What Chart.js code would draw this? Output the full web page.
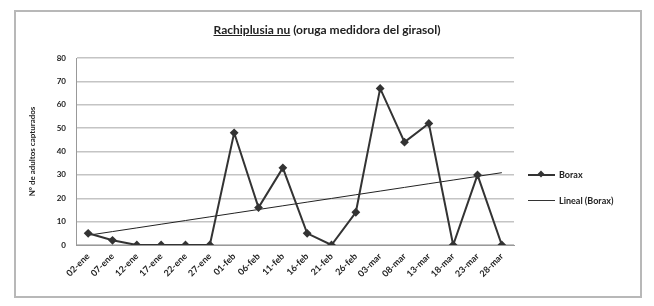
<!DOCTYPE html>
<html>
<head>
<meta charset="utf-8">
<script src="https://cdn.jsdelivr.net/npm/chart.js@4.4.1/dist/chart.umd.min.js"></script>
<style>
  body { margin: 0; background: #fff; font-family: Lato, "Liberation Sans", sans-serif; }
  .wrap { position: relative; width: 654px; height: 306px; }
  .frame { position: absolute; left: 14px; top: 10px; width: 628px; height: 288px; border: 2px solid #b8b8b8; box-sizing: border-box; }
  canvas { position: absolute; left: 0; top: 0; }
  .title { position: absolute; left: 0; width: 654px; top: 22px; text-align: center; font-size: 12px; font-weight: bold; color: #222; }
  .legend { position: absolute; left: 528px; top: 168px; font-size: 9px; font-weight: bold; color: #222; }
  .legend div { display: flex; align-items: center; height: 13px; margin-bottom: 13px; }
  .swatch { position: relative; width: 27px; height: 2px; background: #333; margin-right: 4px; }
  .swatch.thin { height: 1px; }
  .swatch .dia { position: absolute; left: 10px; top: -3px; width: 6px; height: 6px; background: #333; transform: rotate(45deg) scale(0.8); }
</style>
</head>
<body>
<div class="wrap">
  <div class="frame"></div>
  <canvas id="chart" width="654" height="306"></canvas>
  <div class="title"><u>Rachiplusia nu</u> (oruga medidora del girasol)</div>
  <div class="legend">
    <div><span class="swatch"><span class="dia"></span></span>Borax</div>
    <div><span class="swatch thin"></span>Lineal (Borax)</div>
  </div>
</div>
<script>
// fechas de muestreo
const fechas = ['02-ene', '07-ene', '12-ene', '17-ene', '22-ene', '27-ene', '01-feb', '06-feb', '11-feb',
  '16-feb', '21-feb', '26-feb', '03-mar', '08-mar', '13-mar', '18-mar', '23-mar', '28-mar'];
// adultos capturados
const capturas = [5, 2, 0, 0, 0, 0, 48, 16, 33, 5, 0, 14, 67, 44, 52, 0, 30, 0];
const yTicks = [0, 10, 20, 30, 40, 50, 60, 70, 80];

// tendencia lineal (minimos cuadrados) sobre las capturas
const n = capturas.length;
const mx = (n - 1) / 2;
const my = capturas.reduce((a, b) => a + b, 0) / n;
let sxy = 0, sxx = 0;
capturas.forEach((v, i) => { sxy += (i - mx) * (v - my); sxx += (i - mx) * (i - mx); });
const pend = sxy / sxx;
const tendencia = capturas.map((_, i) => my + pend * (i - mx));

const tickFont = { family: 'Lato, "Liberation Sans", sans-serif', size: 8, weight: 'bold' };
const xFont = { family: 'Lato, "Liberation Sans", sans-serif', size: 9, weight: 'bold' };

new Chart(document.getElementById('chart'), {
  type: 'line',
  data: {
    labels: fechas,
    datasets: [
      {
        label: 'Borax',
        data: capturas,
        borderColor: '#333',
        backgroundColor: '#333',
        borderWidth: 2,
        pointStyle: 'rectRot',
        pointRadius: 3,
        tension: 0,
      },
      {
        label: 'Lineal (Borax)',
        data: tendencia,
        borderColor: '#222',
        borderWidth: 1,
        pointRadius: 0,
        tension: 0,
      },
    ],
  },
  options: {
    responsive: false,
    animation: false,
    layout: { padding: { left: 26, right: 140, top: 58, bottom: 0 } },
    plugins: { legend: { display: false }, tooltip: { enabled: false } },
    scales: {
      x: {
        offset: true,
        grid: { display: false, drawTicks: false },
        border: { color: '#999', width: 1 },
        ticks: { font: xFont, color: '#222', maxRotation: 45, minRotation: 45, autoSkip: false, padding: 6 },
        afterFit: (s) => { s.height = 61; },
      },
      y: {
        min: 0,
        max: 80,
        afterBuildTicks: (s) => { s.ticks = yTicks.map((v) => ({ value: v })); },
        grid: { color: '#c4c4c4', lineWidth: 1.5, drawTicks: false },
        border: { color: '#999', width: 1 },
        ticks: { font: tickFont, color: '#222', padding: 10 },
        title: { display: true, text: 'Nº de adultos capturados', font: tickFont, color: '#222', padding: 2 },
        afterFit: (s) => { s.width = 50; },
      },
    },
  },
});
</script>
</body>
</html>
